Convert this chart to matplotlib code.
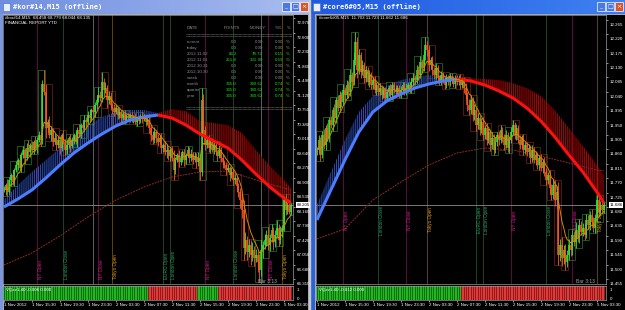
import numpy as np
import pandas as pd
import matplotlib
matplotlib.use("Agg")
import matplotlib.pyplot as plt
from matplotlib.patches import Rectangle
from matplotlib.colors import LinearSegmentedColormap
from matplotlib.transforms import blended_transform_factory, ScaledTranslation

W, H = 625, 310
plt.rcParams['font.family'] = ['Liberation Sans', 'DejaVu Sans']
plt.rcParams['hatch.linewidth'] = 0.7

# ---------------- left window: #kor#14,M15 ----------------
kor_close = [
    68.588, 68.715, 68.536, 68.843, 68.970, 68.792, 69.098, 69.225,
    69.352, 69.149, 69.480, 69.608, 69.404, 69.659, 69.557, 69.735,
    69.608, 69.812, 69.659, 69.863, 69.990, 69.863, 71.290, 71.086,
    70.168, 70.321, 69.990, 70.117, 69.812, 69.914, 69.735, 69.863,
    69.659, 69.990, 69.812, 69.608, 69.735, 69.914, 69.710, 69.863,
    69.990, 69.812, 70.117, 70.015, 70.245, 70.168, 70.372, 70.321,
    70.500, 70.423, 70.628, 70.576, 70.755, 70.883, 71.010, 70.934,
    71.342, 71.138, 71.189, 70.883, 70.985, 70.755, 70.679, 70.576,
    70.679, 70.500, 70.576, 70.423, 70.526, 70.372, 70.474, 70.423,
    70.500, 70.372, 70.449, 70.321, 70.423, 70.347, 70.474, 70.398,
    70.449, 70.321, 70.372, 70.168, 69.990, 69.863, 70.066, 69.914,
    69.812, 69.914, 69.659, 69.735, 69.557, 69.608, 69.455, 69.608,
    69.404, 69.098, 69.352, 69.480, 69.301, 69.404, 69.557, 69.352,
    69.480, 69.608, 69.404, 69.506, 69.352, 69.455, 69.301, 69.404,
    69.047, 70.883, 70.117, 69.735, 69.863, 69.659, 69.812, 69.608,
    69.735, 69.557, 69.455, 69.608, 69.404, 69.301, 69.225, 69.098,
    69.149, 68.970, 69.047, 68.843, 68.894, 68.690, 68.536, 68.332,
    68.078, 67.109, 67.313, 67.007, 67.185, 66.930, 67.058, 66.854,
    66.930, 66.752, 66.548, 67.058, 67.185, 67.313, 67.440, 67.185,
    67.364, 67.568, 67.262, 67.440, 67.619, 67.313, 67.517, 67.619,
    68.332, 68.078, 68.205, 68.027, 68.205,
]
# upper / lower wick lengths of each bar (price units)
kor_uw = [
    0.10, 0.05, 0.15, 0.08, 0.05, 0.12, 0.05, 0.10, 0.05, 0.15, 0.08, 0.10, 0.05, 0.12, 0.20, 0.05,
    0.10, 0.05, 0.15, 0.08, 0.10, 0.05, 0.10, 0.35, 0.20, 0.08, 0.15, 0.10, 0.05, 0.12, 0.08, 0.10,
    0.10, 0.05, 0.12, 0.08, 0.15, 0.05, 0.10, 0.08, 0.05, 0.10, 0.08, 0.15, 0.05, 0.10, 0.12, 0.08,
    0.10, 0.15, 0.05, 0.10, 0.08, 0.12, 0.20, 0.10, 0.25, 0.10, 0.15, 0.08, 0.12, 0.10, 0.05, 0.10,
    0.08, 0.05, 0.10, 0.05, 0.08, 0.10, 0.05, 0.08, 0.05, 0.08, 0.05, 0.10, 0.05, 0.08, 0.05, 0.10,
    0.08, 0.05, 0.10, 0.15, 0.08, 0.10, 0.12, 0.05, 0.10, 0.08, 0.12, 0.05, 0.10, 0.15, 0.08, 0.05,
    0.10, 0.20, 0.08, 0.05, 0.12, 0.10, 0.05, 0.08, 0.05, 0.10, 0.08, 0.12, 0.05, 0.10, 0.08, 0.15,
    0.10, 0.30, 0.15, 0.10, 0.08, 0.12, 0.05, 0.10, 0.08, 0.10, 0.05, 0.12, 0.08, 0.10, 0.05, 0.08,
    0.10, 0.05, 0.12, 0.08, 0.10, 0.05, 0.08, 0.10, 0.15, 0.25, 0.20, 0.10, 0.15, 0.12, 0.20, 0.10,
    0.15, 0.10, 0.20, 0.25, 0.10, 0.15, 0.12, 0.20, 0.10, 0.15, 0.08, 0.12, 0.20, 0.10, 0.15, 0.08,
    0.10, 0.15, 0.08, 0.12, 0.05,
]
kor_dw = [
    0.05, 0.12, 0.10, 0.05, 0.15, 0.08, 0.10, 0.05, 0.12, 0.05, 0.10, 0.08, 0.15, 0.05, 0.10, 0.12,
    0.05, 0.10, 0.08, 0.12, 0.05, 0.15, 0.10, 0.08, 0.25, 0.10, 0.08, 0.15, 0.10, 0.05, 0.12, 0.08,
    0.15, 0.08, 0.05, 0.12, 0.10, 0.08, 0.15, 0.05, 0.10, 0.05, 0.12, 0.08, 0.10, 0.05, 0.08, 0.12,
    0.05, 0.10, 0.08, 0.05, 0.12, 0.10, 0.05, 0.08, 0.10, 0.15, 0.08, 0.20, 0.10, 0.12, 0.15, 0.10,
    0.05, 0.10, 0.08, 0.12, 0.05, 0.10, 0.08, 0.05, 0.10, 0.05, 0.08, 0.05, 0.10, 0.08, 0.05, 0.10,
    0.05, 0.10, 0.08, 0.12, 0.15, 0.10, 0.08, 0.12, 0.10, 0.05, 0.12, 0.10, 0.08, 0.15, 0.10, 0.12,
    0.08, 0.25, 0.10, 0.05, 0.12, 0.08, 0.10, 0.15, 0.10, 0.05, 0.12, 0.08, 0.10, 0.05, 0.15, 0.10,
    0.20, 0.10, 0.15, 0.12, 0.08, 0.10, 0.12, 0.05, 0.10, 0.08, 0.12, 0.05, 0.10, 0.15, 0.08, 0.12,
    0.05, 0.15, 0.08, 0.12, 0.10, 0.15, 0.12, 0.20, 0.20, 0.30, 0.15, 0.20, 0.12, 0.25, 0.15, 0.20,
    0.10, 0.25, 0.30, 0.15, 0.20, 0.10, 0.15, 0.12, 0.15, 0.10, 0.20, 0.12, 0.08, 0.15, 0.10, 0.12,
    0.08, 0.12, 0.10, 0.05, 0.08,
]
kor_rib_idx = [0, 8, 16, 24, 32, 40, 48, 56, 64, 72, 80, 88, 96, 104,
               112, 120, 128, 136, 144, 152, 160, 164]
kor_rib_low = [68.154, 68.358, 68.588, 68.894, 69.225, 69.531, 69.786, 70.016,
               70.220, 70.372, 70.449, 70.500, 70.423, 70.245, 70.016, 69.837,
               69.659, 69.352, 68.995, 68.664, 68.384, 68.256]
kor_rib_high = [68.332, 68.715, 69.047, 69.352, 69.659, 69.939, 70.220, 70.449,
                70.576, 70.628, 70.628, 70.551, 70.653, 70.602, 70.347, 70.296,
                70.245, 70.041, 69.608, 69.200, 68.843, 68.639]
kor_rib_turn = 88
kor_slow_idx = [0, 16, 32, 48, 64, 80, 96, 112, 128, 144, 160, 164]
kor_slow = [66.675, 66.981, 67.415, 67.899, 68.332, 68.664, 68.919, 69.047,
            69.072, 68.843, 68.639, 68.588]
kor_vq_len = [83, 28, 12, 42]
kor_vq_dir = [1, -1, 1, -1]
kor_ticks = [72.970, 72.600, 72.230, 71.860, 71.490, 71.120, 70.750, 70.380,
             70.010, 69.640, 69.270, 68.900, 68.530, 68.160, 67.790, 67.420,
             67.050, 66.680, 66.310]
kor_sess_bar = [19, 34, 51, 54, 62, 91, 95, 115, 131, 147, 151, 159]
kor_sess_kind = ['ny', 'lon', 'mid', 'ny', 'tok', 'lon', 'lon', 'ny', 'lon', 'mid', 'ny', 'tok']
kor_sess_text = ['NY Open', 'London Close', '', 'NY Close', 'Tokyo Open', 'EURO Open',
                 'London Open', 'NY Open', 'London Close', '', 'NY Close', 'Tokyo Open']

# ---------------- right window: #core6#05,M15 ----------------
core_close = [
    11.8579, 11.8891, 11.8423, 11.9048, 11.8735, 11.9266, 11.8954, 11.9516,
    11.9360, 11.9829, 11.9579, 12.0141, 11.9891, 12.0298, 12.0079, 12.0454,
    12.0298, 12.0610, 12.0391, 12.0923, 12.0704, 12.1391, 12.1954, 12.1079,
    12.1548, 12.1016, 12.1235, 12.0829, 12.1079, 12.0704, 12.0923, 12.0610,
    12.0766, 12.0454, 12.0610, 12.0391, 12.0516, 12.0298, 12.0454, 12.0204,
    12.0391, 12.0516, 12.0298, 12.0610, 12.0454, 12.0391, 12.0516, 12.0298,
    12.0454, 12.0610, 12.0391, 12.0516, 12.0610, 12.0454, 12.0704, 12.0829,
    12.0766, 12.1079, 12.0923, 12.1329, 12.1141, 12.1548, 12.1860, 12.1704,
    12.1235, 12.1391, 12.1079, 12.0923, 12.1141, 12.0829, 12.0704, 12.0923,
    12.0766, 12.0610, 12.0829, 12.0704, 12.0891, 12.0766, 12.0641, 12.0829,
    12.0704, 12.0829, 12.0610, 12.0766, 12.0516, 12.0298, 11.9985, 11.9829,
    12.0141, 11.9673, 11.9829, 11.9360, 11.9579, 11.9204, 11.9454, 11.9048,
    11.9266, 11.8891, 11.9141, 11.8735, 11.8954, 11.8579, 11.8829, 11.9048,
    11.8891, 11.9204, 11.8954, 11.8735, 11.9048, 11.8641, 11.8891, 11.9141,
    11.9360, 11.9048, 11.9266, 11.8891, 11.8735, 11.8954, 11.8579, 11.8735,
    11.8516, 11.8641, 11.8329, 11.8579, 11.8266, 11.8423, 11.8110, 11.8329,
    11.8016, 11.8204, 11.7891, 11.7641, 11.7798, 11.7391, 11.7173, 11.7485,
    11.7016, 11.7266, 11.5298, 11.5610, 11.5204, 11.5454, 11.5079, 11.5298,
    11.5610, 11.5454, 11.5923, 11.5704, 11.6079, 11.5829, 11.6235, 11.6016,
    11.6141, 11.5923, 11.6391, 11.6235, 11.6548, 11.6329, 11.6141, 11.6454,
    11.7016, 11.6641, 11.6860, 11.6704, 11.6860,
]
core_uw = [
    0.010, 0.015, 0.008, 0.012, 0.020, 0.010, 0.015, 0.008, 0.012, 0.010, 0.020, 0.008, 0.015, 0.012, 0.010, 0.020,
    0.010, 0.015, 0.012, 0.020, 0.010, 0.025, 0.030, 0.015, 0.020, 0.010, 0.015, 0.008, 0.012, 0.010, 0.015, 0.008,
    0.010, 0.012, 0.008, 0.010, 0.015, 0.008, 0.012, 0.010, 0.008, 0.010, 0.012, 0.008, 0.010, 0.015, 0.008, 0.010,
    0.012, 0.008, 0.010, 0.015, 0.008, 0.010, 0.012, 0.015, 0.010, 0.015, 0.012, 0.020, 0.010, 0.015, 0.025, 0.012,
    0.015, 0.010, 0.012, 0.008, 0.015, 0.010, 0.008, 0.012, 0.008, 0.010, 0.012, 0.008, 0.010, 0.008, 0.012, 0.010,
    0.010, 0.008, 0.012, 0.010, 0.008, 0.015, 0.010, 0.020, 0.015, 0.010, 0.020, 0.012, 0.015, 0.010, 0.012, 0.015,
    0.010, 0.015, 0.012, 0.010, 0.020, 0.012, 0.015, 0.010, 0.012, 0.015, 0.010, 0.012, 0.015, 0.010, 0.012, 0.015,
    0.015, 0.010, 0.012, 0.008, 0.015, 0.010, 0.012, 0.010, 0.010, 0.012, 0.008, 0.015, 0.010, 0.012, 0.008, 0.010,
    0.012, 0.010, 0.015, 0.012, 0.010, 0.015, 0.012, 0.020, 0.015, 0.020, 0.030, 0.020, 0.025, 0.015, 0.020, 0.015,
    0.020, 0.015, 0.020, 0.012, 0.025, 0.015, 0.020, 0.012, 0.015, 0.012, 0.020, 0.015, 0.012, 0.020, 0.015, 0.012,
    0.015, 0.010, 0.012, 0.008, 0.010,
]
core_dw = [
    0.015, 0.010, 0.020, 0.008, 0.012, 0.015, 0.010, 0.012, 0.010, 0.020, 0.012, 0.015, 0.010, 0.012, 0.015, 0.010,
    0.015, 0.010, 0.020, 0.012, 0.015, 0.010, 0.015, 0.025, 0.012, 0.020, 0.010, 0.015, 0.012, 0.010, 0.015, 0.012,
    0.012, 0.008, 0.015, 0.010, 0.008, 0.012, 0.010, 0.008, 0.010, 0.012, 0.008, 0.015, 0.010, 0.008, 0.012, 0.010,
    0.008, 0.012, 0.010, 0.008, 0.012, 0.010, 0.008, 0.010, 0.012, 0.010, 0.015, 0.010, 0.012, 0.010, 0.015, 0.020,
    0.020, 0.012, 0.015, 0.010, 0.012, 0.015, 0.010, 0.008, 0.010, 0.012, 0.008, 0.010, 0.012, 0.010, 0.008, 0.012,
    0.008, 0.010, 0.012, 0.008, 0.015, 0.012, 0.020, 0.015, 0.012, 0.020, 0.015, 0.020, 0.012, 0.015, 0.010, 0.015,
    0.012, 0.015, 0.010, 0.020, 0.012, 0.015, 0.010, 0.012, 0.015, 0.010, 0.012, 0.015, 0.010, 0.012, 0.015, 0.010,
    0.010, 0.012, 0.015, 0.010, 0.012, 0.008, 0.015, 0.012, 0.012, 0.010, 0.015, 0.012, 0.010, 0.015, 0.012, 0.015,
    0.010, 0.015, 0.012, 0.015, 0.012, 0.020, 0.015, 0.012, 0.020, 0.025, 0.030, 0.020, 0.025, 0.020, 0.025, 0.015,
    0.015, 0.020, 0.015, 0.012, 0.020, 0.012, 0.015, 0.010, 0.012, 0.015, 0.010, 0.012, 0.015, 0.010, 0.012, 0.015,
    0.012, 0.015, 0.010, 0.012, 0.008,
]
core_rib_idx = [0, 8, 16, 24, 32, 40, 48, 56, 64, 72, 80, 88, 96, 104,
                112, 120, 128, 136, 144, 152, 160, 164]
core_rib_low = [11.6391, 11.7329, 11.8266, 11.9141, 11.9766, 12.0110, 12.0329, 12.0516,
                12.0641, 12.0735, 12.0798, 12.0735, 12.0610, 12.0423, 12.0204, 11.9891,
                11.9485, 11.8985, 11.8423, 11.7891, 11.7266, 11.6923]
core_rib_high = [11.6860, 11.7891, 11.8891, 11.9766, 12.0266, 12.0579, 12.0766, 12.0860,
                 12.0923, 12.0891, 12.0829, 12.0829, 12.0798, 12.0766, 12.0673, 12.0516,
                 12.0266, 11.9829, 11.9266, 11.8704, 11.8110, 11.7798]
core_rib_turn = 80
core_slow_idx = [0, 16, 32, 48, 64, 80, 96, 112, 128, 144, 160, 164]
core_slow = [11.5798, 11.6110, 11.7016, 11.7579, 11.8110, 11.8485, 11.8641, 11.8579,
             11.8391, 11.8173, 11.7954, 11.7923]
core_vq_len = [83, 82]
core_vq_dir = [1, -1]
core_ticks = [12.265, 12.220, 12.175, 12.130, 12.085, 12.040, 11.995, 11.950,
              11.905, 11.860, 11.815, 11.770, 11.725, 11.680, 11.635, 11.590,
              11.545, 11.500, 11.455]
core_sess_bar = [15, 35, 51, 63, 91, 95, 111, 131, 146, 160]
core_sess_kind = ['ny', 'lon', 'ny', 'tok', 'lon', 'lon', 'ny', 'lon', 'ny', 'tok']
core_sess_text = ['NY Open', 'London Close', 'NY Close', 'Tokyo Open', 'EURO Open',
                  'London Open', 'NY Open', 'London Close', 'NY Close', 'Tokyo Open']

time_ticks = [0, 16, 32, 48, 64, 80, 96, 112, 128, 144, 160]
time_labels = ['1 Nov 2012', '1 Nov 15:30', '1 Nov 19:30', '1 Nov 23:30', '2 Nov 03:30',
               '2 Nov 07:30', '2 Nov 11:30', '2 Nov 15:30', '2 Nov 19:30', '2 Nov 23:30',
               '5 Nov 03:30']

# financial report table
rep_rows = ['current', 'today', '2012.11.02', '2012.11.01', '2012.10.31', '2012.10.30',
            'week', 'month', 'quarter', 'year']
rep_points = [0.0, 0.0, 83.2, 251.8, 0.0, 0.0, 0.0, 335.0, 335.0, 335.0]
rep_money = [0.00, 0.00, 78.72, 301.90, 0.00, 0.00, 0.00, 380.62, 380.62, 380.62]
rep_pct = [0.00, 0.00, 0.15, 0.59, 0.00, 0.00, 0.00, 0.74, 0.74, 0.74]

SESS_COL = {'ny': '#d2208c', 'lon': '#33a060', 'tok': '#d89a1c', 'mid': '#dddddd'}
UP, DN = '#3ae63a', '#ff5a1e'
GRAY = '#8c8c8c'
TXT = 3.2


def px(x0, y0, x1, y1):
    return [x0 / W, 1 - y1 / H, (x1 - x0) / W, (y1 - y0) / H]


fig = plt.figure(figsize=(W / 100, H / 100), dpi=100)
fig.patch.set_facecolor('#d4d0c8')


def ft(x, y, s, **kw):
    kw.setdefault('fontsize', TXT)
    kw.setdefault('va', 'center')
    fig.text(x / W, 1 - y / H, s, **kw)


# window chrome
bg = fig.add_axes([0, 0, 1, 1], zorder=-5)
grad = np.linspace(0, 1, 64)[None, :]
bg.imshow(grad, cmap=LinearSegmentedColormap.from_list('a', ['#6f8ee0', '#a9bdf0']),
          extent=(0, 309, 14, 0), aspect='auto')
bg.imshow(grad, cmap=LinearSegmentedColormap.from_list('b', ['#1f5ae0', '#3f80f0']),
          extent=(310, W, 14, 0), aspect='auto')
bg.add_patch(Rectangle((0, 14), 309, H, color='#7b96de'))
bg.add_patch(Rectangle((310, 14), W - 310, H, color='#2a62dc'))
bg.add_patch(Rectangle((309, 0), 1, H, color='#c8c8c8'))
bg.add_patch(Rectangle((3, 14), 305, H, color='black', ec='#c0c0c0', lw=0.6))
bg.add_patch(Rectangle((315, 14), 310, H, color='black', ec='#c0c0c0', lw=0.6))
for xs in ([282, 291, 300], [597, 606, 615]):
    for j, x0 in enumerate(xs):
        bg.add_patch(Rectangle((x0, 2), 8, 9, fc='#d8552e' if j == 2 else '#4a78e6',
                               ec='white', lw=0.5))
        ft(x0 + 4, 6.5, ['_', '\u25a1', '\u00d7'][j], color='white', fontsize=4.5,
           ha='center', family='DejaVu Sans')
for x0 in (3, 313):
    bg.add_patch(Rectangle((x0, 3), 7, 8, fc='#e8eef8', ec='#4060c0', lw=0.4))
bg.set_xlim(0, W)
bg.set_ylim(H, 0)
bg.axis('off')
ft(13, 7, '#kor#14,M15 (offline)', color='white', fontsize=5, weight='bold',
   family='DejaVu Sans Mono')
ft(323, 7, '#core6#05,M15 (offline)', color='white', fontsize=5, weight='bold',
   family='DejaVu Sans Mono')


def draw(ax, sub, close, uw, dw, rib_idx, rib_low, rib_high, turn, slow_idx, slow,
         vq_len, vq_dir, ticks, ylim, s_bar, s_kind, s_text, lab_y, lab_va, vq_name):
    c = np.array(close)
    o = np.r_[c[0], c[:-1]]
    hi = np.maximum(o, c) + np.array(uw)
    lo = np.minimum(o, c) - np.array(dw)
    idx = np.arange(len(c))
    n = len(c)
    for a in (ax, sub):
        a.set_facecolor('black')
        a.set_xlim(-0.5, 165.2)
        for sp in a.spines.values():
            sp.set_color('#9a9a9a')
            sp.set_linewidth(0.5)
    ax.set_ylim(*ylim)

    # hourly range boxes
    for g in range(0, n, 4):
        seg = slice(g, min(g + 4, n))
        col = '#1f661f' if c[seg][-1] >= o[g] else '#681a1a'
        ax.add_patch(Rectangle((g - 0.5, lo[seg].min()), 4, hi[seg].max() - lo[seg].min(),
                               fill=False, ec=col, lw=0.6, zorder=1))

    # session lines
    for b, k, t in zip(s_bar, s_kind, s_text):
        ax.axvline(b, color=SESS_COL[k], lw=0.6, ls=(0, (1.2, 1.2)), zorder=1.5)
        if t:
            ax.text(b + 0.6, lab_y, t, rotation=90, color=SESS_COL[k], fontsize=3.3,
                    ha='left', va=lab_va, zorder=6)

    ax.axhline(c[-1], color='#8a8a8a', lw=0.6, zorder=1.8)
    ax.plot(slow_idx, slow, color='#8e2a2a', lw=0.7, ls=(0, (2, 1)), zorder=2.5)

    # moving-average ribbon
    ri = np.array(rib_idx)
    rl = np.array(rib_low)
    rh = np.array(rib_high)
    k = rib_idx.index(turn)
    for sl, line_c, hatch_c in ((slice(0, k + 1), '#4c7dff', '#2f52c0'),
                                (slice(k, None), '#ff1010', '#b80000')):
        ax.fill_between(ri[sl], rl[sl], rh[sl], facecolor='none', edgecolor=hatch_c,
                        hatch='||||||||', linewidth=0, zorder=2)
        ax.plot(ri[sl], rl[sl], color=line_c, lw=2.2, zorder=3.5, solid_capstyle='butt')

    # candles (wick and body drawn in one colour, as the terminal does at this zoom)
    up = c >= o
    ax.vlines(idx[up], lo[up], hi[up], color=UP, lw=0.6, zorder=3)
    ax.vlines(idx[~up], lo[~up], hi[~up], color=DN, lw=0.6, zorder=3)
    ax.vlines(idx[up], o[up], c[up], color=UP, lw=1.1, zorder=3)
    ax.vlines(idx[~up], c[~up], o[~up], color=DN, lw=1.1, zorder=3)
    ema = pd.Series(c).ewm(span=8, adjust=False).mean()
    ax.plot(idx, ema, color='#d08a10', lw=0.7, zorder=4)

    # price scale (labels sit just under their level, as in the terminal)
    ax.set_xticks([])
    ax.set_yticks(ticks)
    ax.set_yticklabels([f'{t:.3f}' for t in ticks])
    ax.tick_params(axis='y', left=False, labelleft=False, right=True, labelright=True,
                   colors='white', labelsize=TXT, length=1.5, width=0.4, pad=1)
    shift = ScaledTranslation(0, -4.5 / 100, fig.dpi_scale_trans)
    for lab in ax.get_yticklabels():
        lab.set_transform(lab.get_transform() + shift)
    tr = blended_transform_factory(ax.transAxes, ax.transData)
    ax.text(1.012, c[-1], f'{c[-1]:.3f}', transform=tr, ha='left', va='center',
            fontsize=TXT, color='black', clip_on=False, zorder=10,
            bbox=dict(boxstyle='square,pad=0.15', fc='white', ec='none'))

    # VQ sub-window
    d = np.repeat(vq_dir, vq_len)
    sub.bar(idx, 1, width=1.0, color=np.where(d > 0, '#0e6e0e', '#8e1a1a'))
    sub.bar(idx, 1, width=0.5, color=np.where(d > 0, '#22b822', '#e03a3a'))
    sub.set_ylim(0, 1)
    sub.set_yticks([])
    sub.set_xticks(time_ticks)
    sub.set_xticklabels(time_labels, ha='left')
    sub.tick_params(axis='x', colors='white', labelsize=TXT, length=1.5, width=0.4, pad=1)
    sub.text(0.01, 0.7, vq_name, transform=sub.transAxes, color='white', fontsize=TXT,
             va='center')
    sub.text(1.012, 0.66, '1', transform=sub.transAxes, color='white', fontsize=TXT,
             va='center', clip_on=False)
    sub.text(1.012, 0.08, '0', transform=sub.transAxes, color='white', fontsize=TXT,
             va='center', clip_on=False)


axL = fig.add_axes(px(3, 15, 293, 284))
subL = fig.add_axes(px(3, 285.5, 293, 300))
draw(axL, subL, kor_close, kor_uw, kor_dw, kor_rib_idx, kor_rib_low, kor_rib_high,
     kor_rib_turn, kor_slow_idx, kor_slow, kor_vq_len, kor_vq_dir, kor_ticks,
     (66.191, 73.050), kor_sess_bar, kor_sess_kind, kor_sess_text, 66.331, 'bottom',
     'VQzz1.40 -0.006 0.000')

axR = fig.add_axes(px(316, 15, 606, 284))
subR = fig.add_axes(px(316, 285.5, 606, 300))
draw(axR, subR, core_close, core_uw, core_dw, core_rib_idx, core_rib_low, core_rib_high,
     core_rib_turn, core_slow_idx, core_slow, core_vq_len, core_vq_dir, core_ticks,
     (11.4391, 12.2798), core_sess_bar, core_sess_kind, core_sess_text, 11.6391, 'center',
     'VQzz1.40 -0.012 0.000')

# chart captions
ft(5, 18, '#kor#14,M15  68.458 68.779 68.044 68.135', color='white')
ft(5, 23.5, 'FINANCIAL REPORT YTD', color='white')
ft(319, 18, '#core6#05,M15  11.703 11.723 11.662 11.686', color='white')
ft(258, 281.5, 'Bar 3:13', color='#a0a0a0', fontsize=3.6)
ft(576, 281.5, 'Bar 3:13', color='#a0a0a0', fontsize=3.6)

# financial report overlay
ft(187, 28, 'DATE', color=GRAY)
ft(240, 28, 'POINTS', color=GRAY, ha='right')
ft(266, 28, 'MONEY', color=GRAY, ha='right')
ft(283, 28, '%%', color=GRAY, ha='right')
ft(287, 28, '%', color=GRAY)
for yy in (34.3, 36.0, 106.8, 108.5):
    fig.lines.append(plt.Line2D([186 / W, 292 / W], [1 - yy / H] * 2,
                                transform=fig.transFigure, color=GRAY, lw=0.4,
                                ls=(0, (1.5, 0.8))))
for j, lab in enumerate(rep_rows):
    yy = 42 + 6 * j
    col = '#1ee01e' if rep_points[j] else GRAY
    ft(187, yy, lab, color=GRAY)
    ft(237, yy, f'{rep_points[j]:.1f}', color=col, ha='right')
    ft(263, yy, f'{rep_money[j]:.2f}', color=col, ha='right')
    ft(283, yy, f'{rep_pct[j]:.2f}', color=col, ha='right')
    ft(286, yy, '%', color=col)

fig.savefig('out.png', dpi=100, facecolor=fig.get_facecolor())
